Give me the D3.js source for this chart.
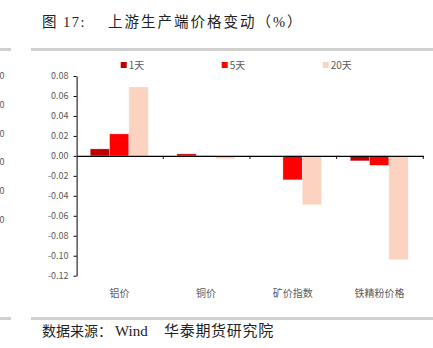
<!DOCTYPE html>
<html>
<head>
<meta charset="utf-8">
<script src="https://cdn.jsdelivr.net/npm/d3@7"></script>
<style>
  html, body { margin: 0; padding: 0; background: #fff; }
  svg { display: block; }
</style>
</head>
<body>
<svg id="chart" width="433" height="348"></svg>
<script>
// Upstream production-side price changes (%)
const categories = ["铝价", "铜价", "矿价指数", "铁精粉价格"];
const seriesNames = ["1天", "5天", "20天"];
const oneDay = [0.007, 0.002, 0.0, -0.005];
const fiveDay = [0.022, -0.001, -0.024, -0.0095];
const twentyDay = [0.069, -0.003, -0.049, -0.104];
const yTicks = [0.08, 0.06, 0.04, 0.02, 0.00, -0.02, -0.04, -0.06, -0.08, -0.10, -0.12];
const colors = ["#C00000", "#FF0000", "#FBD3C0"];

const seriesValues = [oneDay, fiveDay, twentyDay];
const rows = categories.map((c, i) => ({
  cat: c,
  vals: seriesNames.map((s, j) => ({ key: s, value: seriesValues[j][i] }))
}));

const svg = d3.select("#chart");
const serif = "'Liberation Serif', 'Noto Sans CJK SC', serif";
const sans = "'Noto Sans CJK SC', 'Noto Sans', sans-serif";

// Title
svg.append("text").attr("x", 42).attr("y", 26.5)
  .attr("font-family", serif).attr("font-size", 14.5).attr("fill", "#222")
  .attr("letter-spacing", 1.5)
  .text("图 17:");
svg.append("text").attr("x", 108).attr("y", 26.5)
  .attr("font-family", serif).attr("font-size", 14.5).attr("fill", "#222")
  .attr("letter-spacing", 2)
  .text("上游生产端价格变动（%）");

// Gray separator rules
[49.5, 318.5].forEach(yy => {
  svg.append("rect").attr("x", 0).attr("y", yy - 1.5).attr("width", 11).attr("height", 3).attr("fill", "#d0d0d0");
  svg.append("rect").attr("x", 31).attr("y", yy - 1.5).attr("width", 402).attr("height", 3).attr("fill", "#d0d0d0");
});

// Axis labels of the neighbouring panel at the left edge
[75.7, 104.3, 133, 161.7, 190.3, 219].forEach(yy => {
  svg.append("text").attr("x", -0.5).attr("y", yy + 3.5).attr("text-anchor", "start")
    .attr("font-family", sans).attr("font-size", 9).attr("fill", "#595959").text("0");
});

// Scales
const x0 = d3.scaleBand().domain(categories).range([76.6, 423.3]).paddingInner(0).paddingOuter(0);
const x1 = d3.scaleBand().domain(seriesNames).range([0, 58]);
const groupOffset = (x0.bandwidth() - 58) / 2 - 0.7;
const y = d3.scaleLinear().domain([-0.12, 0.08]).range([275.7, 76]);
const color = d3.scaleOrdinal().domain(seriesNames).range(colors);

// Bars
const g = svg.append("g");
g.selectAll("g.grp").data(rows).join("g")
  .attr("class", "grp")
  .attr("transform", d => `translate(${x0(d.cat) + groupOffset},0)`)
  .selectAll("rect").data(d => d.vals).join("rect")
  .attr("x", d => x1(d.key))
  .attr("width", x1.bandwidth())
  .attr("y", d => y(Math.max(0, d.value)))
  .attr("height", d => Math.abs(y(d.value) - y(0)))
  .attr("fill", d => color(d.key))
  .attr("stroke", "#fff").attr("stroke-opacity", 0.5).attr("stroke-width", 0.6);

// Y axis
const yAxis = svg.append("g").attr("transform", "translate(76.6,0)")
  .call(d3.axisLeft(y).tickValues(yTicks).tickFormat(d3.format(".2f")).tickSize(3).tickSizeOuter(0));
yAxis.select(".domain").attr("stroke", "#000").attr("stroke-width", 1);
yAxis.selectAll(".tick line").attr("stroke", "#000");
yAxis.selectAll(".tick text")
  .attr("font-family", sans).attr("font-size", 9).attr("fill", "#595959").attr("x", -8)
  .text(d => d3.format(".2f")(d).replace("−", "-"));

// Zero-line category axis
const xAxis = svg.append("g").attr("transform", `translate(0,${y(0)})`)
  .call(d3.axisBottom(x0).tickSize(0).tickSizeOuter(0));
xAxis.select(".domain").attr("stroke", "#000").attr("stroke-width", 1.2);
xAxis.selectAll(".tick text").remove();
xAxis.selectAll(".tick line").remove();
categories.forEach(c => {
  xAxis.append("line").attr("x1", x0(c) + x0.bandwidth()).attr("x2", x0(c) + x0.bandwidth())
    .attr("y1", 0).attr("y2", 3).attr("stroke", "#000");
});

// Category labels at the bottom
svg.append("g").selectAll("text").data(categories).join("text")
  .attr("x", d => x0(d) + x0.bandwidth() / 2 - 0.5)
  .attr("y", 297)
  .attr("text-anchor", "middle")
  .attr("font-family", sans).attr("font-size", 10).attr("fill", "#595959")
  .text(d => d);

// Legend
const legendX = [120.7, 221.7, 322.7];
const lg = svg.append("g").selectAll("g").data(seriesNames).join("g")
  .attr("transform", (d, i) => `translate(${legendX[i]},62)`);
lg.append("rect").attr("width", 6).attr("height", 6).attr("fill", d => color(d));
lg.append("text").attr("x", 8).attr("y", 6.5)
  .attr("font-family", sans).attr("font-size", 10).attr("fill", "#595959").text(d => d);

// Source note
const src = svg.append("text").attr("y", 336)
  .attr("font-family", serif).attr("fill", "#222");
src.append("tspan").attr("x", 42).attr("font-size", 14).text("数据来源：");
src.append("tspan").attr("x", 115).attr("font-size", 15).text("Wind");
src.append("tspan").attr("x", 164).attr("font-size", 15).attr("letter-spacing", 0.7).text("华泰期货研究院");
</script>
</body>
</html>
